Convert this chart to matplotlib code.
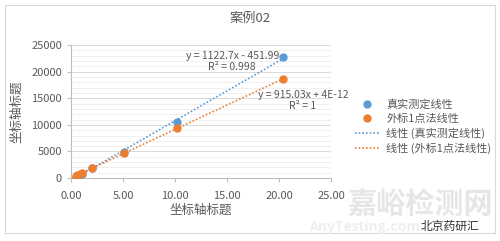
import matplotlib
matplotlib.use("Agg")

import matplotlib.pyplot as plt
import numpy as np
from matplotlib.ticker import FormatStrFormatter, MultipleLocator

plt.rcParams["font.family"] = ["Noto Sans CJK SC", "DejaVu Sans"]
plt.rcParams["axes.unicode_minus"] = False

# ── data ────────────────────────────────────────────────────────────
conc = [0.51, 0.61, 0.82, 1.02, 2.04, 5.10, 10.20, 20.40]
real_resp = [150, 300, 500, 700, 1850, 4950, 10450, 22800]
ext_resp = [467, 558, 750, 933, 1867, 4667, 9333, 18666]

real_fit = (1122.7, -451.99)
ext_fit = (915.03, 4e-12)
real_eq = "y = 1122.7x - 451.99\nR² = 0.998"
ext_eq = "y = 915.03x + 4E-12\nR² = 1"

series_names = ["真实测定线性", "外标1点法线性"]

BLUE = "#5B9BD5"
ORANGE = "#ED7D31"
GRAY = "#595959"

fig = plt.figure(figsize=(5.0, 2.41), dpi=100)
fig.patch.set_facecolor("white")

# chart frame
frame = plt.Rectangle((0.01, 0.035), 0.98, 0.945, transform=fig.transFigure,
                      fill=False, edgecolor="#d9d9d9", linewidth=0.8)
fig.patches.append(frame)

ax = fig.add_axes([0.142, 0.261, 0.52, 0.552])

xs = np.array([min(conc), max(conc)])
ax.plot(xs, real_fit[0] * xs + real_fit[1], linestyle=(0, (1, 1.2)),
        color=BLUE, linewidth=1.2, label="线性 (" + series_names[0] + ")", zorder=2)
ax.plot(xs, ext_fit[0] * xs + ext_fit[1], linestyle=(0, (1, 1.2)),
        color=ORANGE, linewidth=1.2, label="线性 (" + series_names[1] + ")", zorder=2)
ax.plot(conc, real_resp, "o", color=BLUE, markersize=5, label=series_names[0], zorder=3)
ax.plot(conc, ext_resp, "o", color=ORANGE, markersize=5, label=series_names[1], zorder=4)

ax.set_xlim(0, 25)
ax.set_ylim(0, 25000)
ax.xaxis.set_major_locator(MultipleLocator(5))
ax.xaxis.set_major_formatter(FormatStrFormatter("%.2f"))
ax.yaxis.set_major_locator(MultipleLocator(5000))
ax.yaxis.set_minor_locator(MultipleLocator(1000))

ax.grid(axis="y", which="major", color="#d9d9d9", linewidth=0.7)
ax.grid(axis="y", which="minor", color="#eeeeee", linewidth=0.6)
ax.set_axisbelow(True)

for s in ["top", "right"]:
    ax.spines[s].set_visible(False)
for s in ["left", "bottom"]:
    ax.spines[s].set_color("#bfbfbf")
    ax.spines[s].set_linewidth(0.8)

ax.tick_params(axis="both", labelsize=8, colors="#bfbfbf", labelcolor=GRAY, length=3)
ax.tick_params(axis="y", which="minor", length=0)
ax.tick_params(axis="x", pad=6)

ax.set_xlabel("坐标轴标题", fontsize=9, color=GRAY, labelpad=2)
ax.set_ylabel("坐标轴标题", fontsize=9, color=GRAY, labelpad=6)
fig.text(0.5, 0.925, "案例02", ha="center", va="center", fontsize=9.5, color=GRAY)

# trendline equations
ax.text(15.5, 20000, real_eq, ha="center", va="bottom", fontsize=7.5,
        color=GRAY, linespacing=1.1)
ax.text(22.3, 12600, ext_eq, ha="center", va="bottom", fontsize=7.5,
        color=GRAY, linespacing=1.1)

handles, labels = ax.get_legend_handles_labels()
order = [2, 3, 0, 1]
leg = fig.legend([handles[i] for i in order], [labels[i] for i in order],
                 loc="upper left", bbox_to_anchor=(0.69, 0.63), frameon=False,
                 fontsize=8, labelcolor=GRAY, handlelength=2.2, handletextpad=0.6,
                 labelspacing=0.35)

# watermark
fig.text(0.84, 0.15, "嘉峪检测网", ha="center", va="center", fontsize=21,
         color="#e6e6e6", fontweight="bold")
fig.text(0.73, 0.06, "AnyTesting.com", ha="center", va="center", fontsize=10,
         color="#eeeeee", style="italic", fontweight="bold")
fig.text(0.90, 0.06, "北京药研汇", ha="center", va="center", fontsize=8.5,
         color="#333333")

fig.savefig("out.png", dpi=100, facecolor="white")
